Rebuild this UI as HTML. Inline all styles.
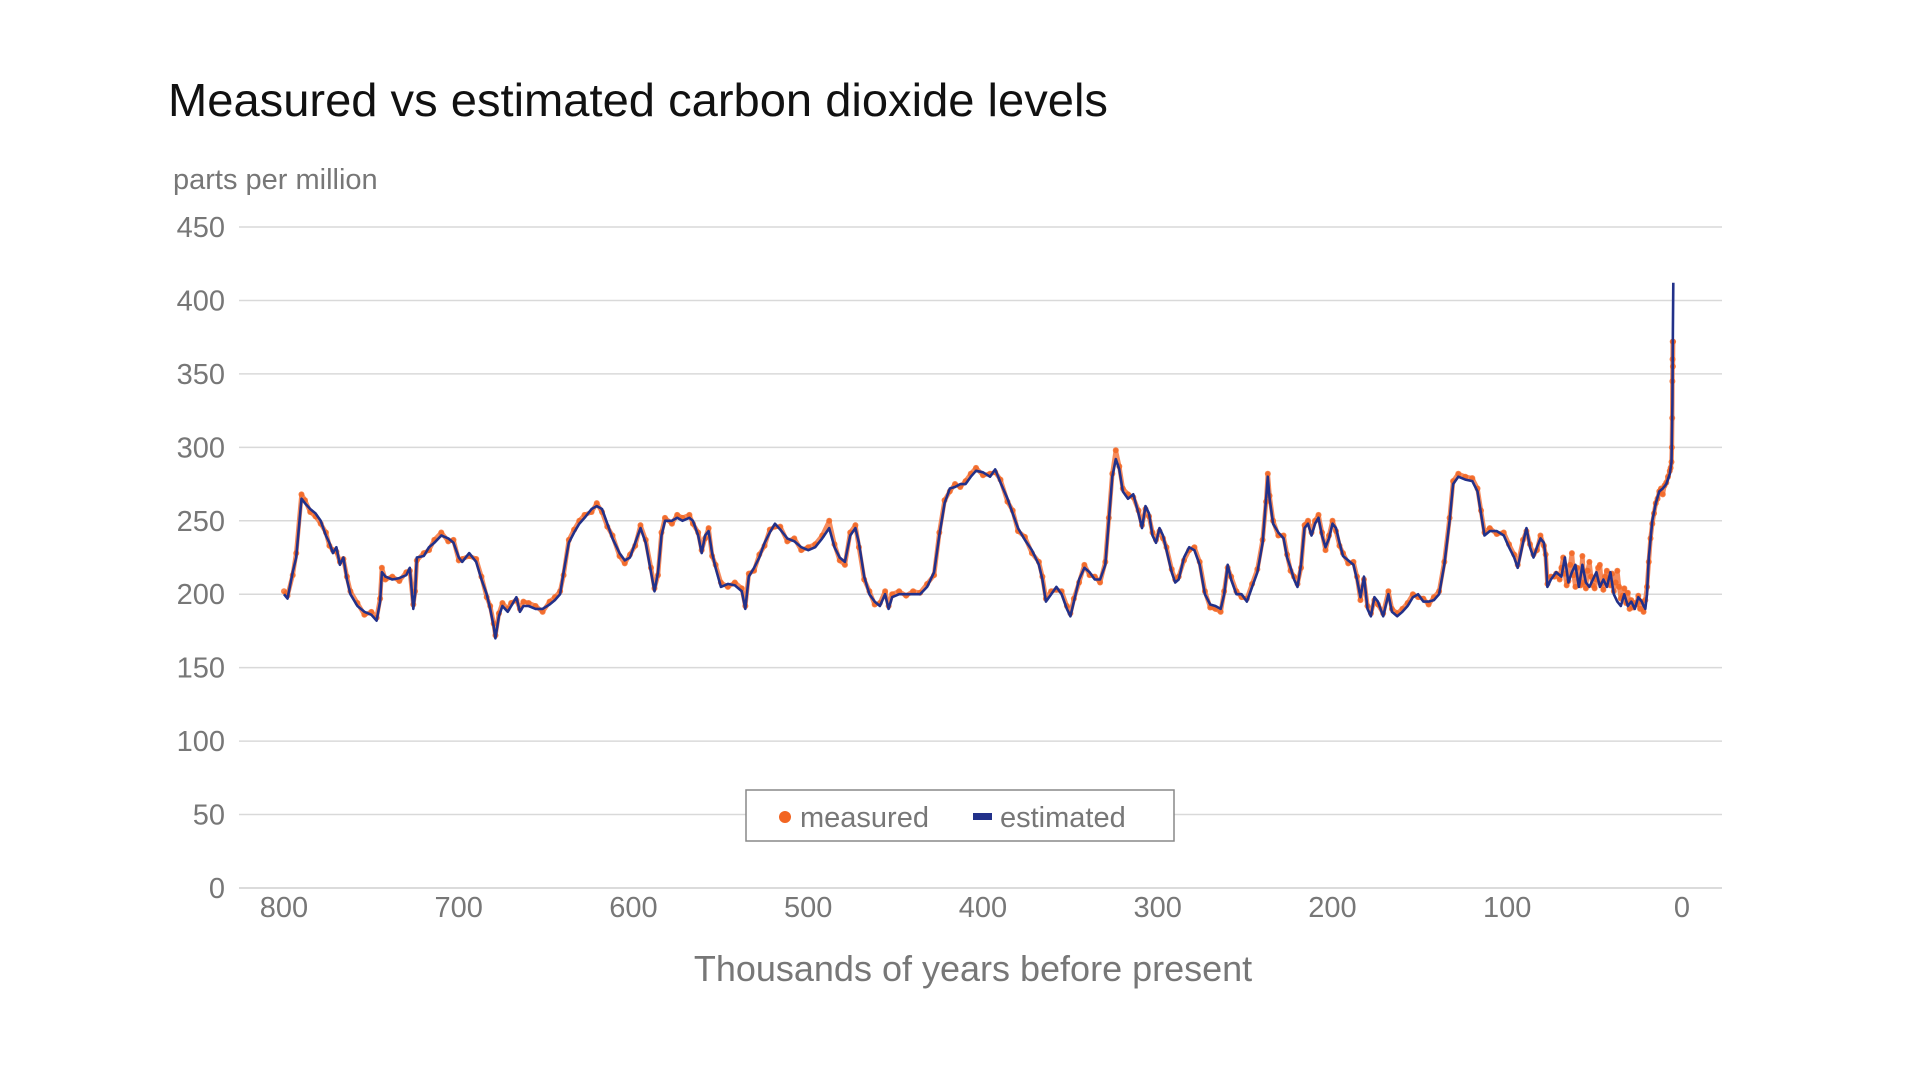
<!DOCTYPE html>
<html><head><meta charset="utf-8"><style>
body{margin:0;background:#fff;width:1920px;height:1080px;overflow:hidden;font-family:"Liberation Sans",sans-serif}
svg text{font-family:"Liberation Sans",sans-serif}
</style></head><body>
<svg id="chart" width="1920" height="1080">
<text x="168" y="116" font-size="46" fill="#111" textLength="940" lengthAdjust="spacingAndGlyphs">Measured vs estimated carbon dioxide levels</text>
<text x="173" y="189" font-size="29" fill="#777">parts per million</text>
<text x="973" y="981" font-size="36" fill="#777" text-anchor="middle">Thousands of years before present</text>
<g id="grid"></g><g id="dots"></g><g id="line"></g><g id="ticks"></g>
<g>
<rect x="746" y="790" width="428" height="51" fill="#fff" stroke="#888" stroke-width="1.5"/>
<circle cx="785" cy="817" r="6" fill="#f26522"/>
<text x="800" y="827" font-size="29" fill="#777">measured</text>
<rect x="973" y="813" width="19" height="7" fill="#22318a"/>
<text x="1000" y="827" font-size="29" fill="#777">estimated</text>
</g>
</svg>
<script>
const yTicks=[0,50,100,150,200,250,300,350,400,450];
const xTicks=[800,700,600,500,400,300,200,100,0];
const estYears=[800,798,795,793,790,788,785,782,779,776,774,772,770,768,766,764,762,758,754,750,747,745,744,742,738,734,730,728,726,725,724,720,717,714,710,706,703,700,698,694,690,687,684,682,680,679,677,675,672,670,667,665,663,660,656,652,648,645,642,640,637,634,631,628,624,621,618,615,612,608,605,602,599,596,593,590,588,586,584,582,578,575,572,568,566,563,561,559,557,555,553,550,546,542,538,536,534,531,528,525,522,519,516,512,508,504,500,496,492,488,485,482,479,476,473,471,468,465,462,459,456,454,452,448,444,440,436,432,428,425,422,419,416,413,410,407,404,400,396,393,390,386,383,380,376,372,368,366,364,361,358,355,352,350,348,345,342,339,336,333,330,328,326,324,322,320,317,314,311,309,307,305,303,301,299,297,295,292,290,288,285,282,279,276,273,270,267,264,262,260,258,255,252,249,246,243,240,238,237,236,234,231,228,226,224,222,220,218,216,214,212,210,208,206,204,202,200,198,196,194,191,188,186,184,182,180,178,176,174,171,168,166,163,160,157,154,151,148,145,142,139,136,133,131,128,124,120,117,115,113,110,106,102,99,96,94,91,89,87,85,83,81,79,78,77,75,72,69,67,65,63,61,59,57,55,53,51,49,47,45,43,41,39,37,35,33,31,29,27,25,23,22,21,20,19,17,15,13,11,9,7,6,5.5,5.2,5];
const estValues=[200,197,215,225,265,262,258,255,250,240,235,228,232,220,225,210,200,192,188,186,182,195,215,212,210,211,213,218,190,200,225,226,232,235,240,238,235,225,222,228,222,210,200,190,178,170,185,192,188,192,198,188,192,192,190,190,193,196,200,215,235,242,248,252,258,260,258,248,238,228,223,225,235,245,235,215,202,215,240,250,250,252,250,252,250,240,228,240,243,228,218,205,207,206,202,190,212,218,225,235,242,248,244,238,236,232,230,232,238,245,232,225,222,240,245,235,212,200,195,192,200,190,198,200,200,200,200,205,215,240,262,272,273,275,275,280,284,283,280,285,276,265,255,245,237,230,220,210,195,200,205,200,190,185,195,210,218,215,210,210,220,250,280,292,285,270,265,268,255,245,260,255,240,235,245,240,230,215,208,210,225,232,230,220,200,193,192,190,200,220,210,200,200,195,205,215,235,265,280,265,248,242,238,225,218,210,205,220,245,248,240,248,252,240,232,238,248,245,235,226,223,220,210,198,212,190,185,198,195,185,200,188,185,188,192,198,200,195,195,196,200,220,250,275,280,278,277,270,255,240,243,243,240,232,225,218,235,245,232,225,232,238,235,225,205,210,215,212,225,208,215,220,205,220,208,205,210,215,205,210,205,215,200,195,192,200,192,195,190,198,195,192,190,200,225,250,262,270,272,275,282,290,330,380,412];
const measYears=[800,798,795,793,790,788,785,782,779,776,774,772,770,768,766,764,762,758,754,750,747,745,744,742,738,734,730,728,726,725,724,720,717,714,710,706,703,700,698,694,690,687,684,682,680,679,677,675,672,670,667,665,663,660,656,652,648,645,642,640,637,634,631,628,624,621,618,615,612,608,605,602,599,596,593,590,588,586,584,582,578,575,572,568,566,563,561,559,557,555,553,550,546,542,538,536,534,531,528,525,522,519,516,512,508,504,500,496,492,488,485,482,479,476,473,471,468,465,462,459,456,454,452,448,444,440,436,432,428,425,422,419,416,413,410,407,404,400,396,393,390,386,383,380,376,372,368,366,364,361,358,355,352,350,348,345,342,339,336,333,330,328,326,324,322,320,317,314,311,309,307,305,303,301,299,297,295,292,290,288,285,282,279,276,273,270,267,264,262,260,258,255,252,249,246,243,240,238,237,236,234,231,228,226,224,222,220,218,216,214,212,210,208,206,204,202,200,198,196,194,191,188,186,184,182,180,178,176,174,171,168,166,163,160,157,154,151,148,145,142,139,136,133,131,128,124,120,117,115,113,110,106,102,99,96,94,91,89,87,85,83,81,79,78,77,75,73,72,70,69,68,67,66,65,64,63,62,61,60,59,58,57,56,55,54,53,52,51,50,49,48,47,46,45,44,43,42,41,40,39,38,37,36,35,34,33,32,31,30,29,28,27,26,25,24,23,22,21,20,19,18,17,16,15,14,13,12,11,10,9,8,7,6.5,6,5.8,5.6,5.5,5.4,5.3,5.2,5.1];
const measValues=[202,199,213,228,268,264,256,253,248,242,233,230,229,222,224,212,202,194,186,188,184,197,218,210,212,209,215,216,193,202,223,228,230,237,242,236,237,223,224,226,224,212,198,192,180,172,187,194,190,194,196,190,195,194,192,188,195,198,202,213,237,244,250,254,256,262,256,246,240,226,221,227,233,247,237,218,204,213,242,252,248,254,252,254,248,242,230,238,245,226,220,208,205,208,204,192,214,216,227,233,244,246,246,236,238,230,232,234,240,250,234,223,220,242,247,232,210,202,193,194,202,192,200,202,199,202,201,207,213,242,264,270,275,273,277,282,286,281,282,283,278,263,257,243,239,228,222,212,197,202,203,202,192,187,197,208,220,213,212,208,222,252,282,298,287,272,268,266,257,247,258,253,242,237,243,238,232,217,210,212,223,230,232,222,202,191,190,188,202,218,212,202,198,197,207,217,237,263,282,267,250,240,240,227,216,212,207,218,247,250,242,250,254,242,230,240,250,243,233,228,221,222,212,196,210,192,187,196,193,187,202,190,187,190,194,200,198,197,193,198,202,222,252,277,282,280,279,272,257,242,245,241,242,234,227,220,237,243,234,227,230,240,233,227,207,212,
212,214,210,218,225,214,206,209,220,228,
213,205,218,210,206,226,208,204,216,222,
212,206,204,210,218,220,207,203,212,216,
210,206,214,202,208,216,205,197,199,204,
194,201,190,196,191,194,193,199,190,195,
188,196,205,222,238,248,255,262,265,270,
272,268,274,276,280,284,286,290,300,
320,345,360,372,355,372];
const NS='http://www.w3.org/2000/svg';
const L=239,R=1722,X0=284,X1=1682,Y0=888,Y450=227;
function xs(k){return X0+(800-k)*(X1-X0)/800;}
function ys(v){return Y0-v*(Y0-Y450)/450;}
const grid=document.getElementById('grid'),ticks=document.getElementById('ticks');
yTicks.forEach(t=>{
 const l=document.createElementNS(NS,'line');
 l.setAttribute('x1',L);l.setAttribute('x2',R);l.setAttribute('y1',ys(t));l.setAttribute('y2',ys(t));
 l.setAttribute('stroke',t===0?'#cfcfcf':'#d9d9d9');l.setAttribute('stroke-width','1.5');
 
 
 grid.appendChild(l);
 const tx=document.createElementNS(NS,'text');
 tx.setAttribute('x',225);tx.setAttribute('y',ys(t)+10);tx.setAttribute('text-anchor','end');
 tx.setAttribute('font-size','29');tx.setAttribute('fill','#777');tx.textContent=t;
 
 
 ticks.appendChild(tx);
});
xTicks.forEach(t=>{
 const tx=document.createElementNS(NS,'text');
 tx.setAttribute('x',xs(t));tx.setAttribute('y',917);tx.setAttribute('text-anchor','middle');
 tx.setAttribute('font-size','29');tx.setAttribute('fill','#777');tx.textContent=t;
 
 
 ticks.appendChild(tx);
});
const dots=document.getElementById('dots');
const mp=document.createElementNS(NS,'path');
mp.setAttribute('d',measYears.map((k,i)=>(i?'L':'M')+xs(k).toFixed(1)+' '+ys(measValues[i]).toFixed(1)).join(' '));
mp.setAttribute('fill','none');mp.setAttribute('stroke','#f4773f');mp.setAttribute('stroke-width','4.5');mp.setAttribute('stroke-linejoin','round');mp.setAttribute('stroke-opacity','0.85');


dots.appendChild(mp);
measYears.forEach((k,i)=>{
 const c=document.createElementNS(NS,'circle');
 c.setAttribute('cx',xs(k));c.setAttribute('cy',ys(measValues[i]));c.setAttribute('r','3');
 c.setAttribute('fill','#f26522');c.setAttribute('fill-opacity','0.8');
 
 
 dots.appendChild(c);
});
const p=document.createElementNS(NS,'path');
p.setAttribute('d',estYears.map((k,i)=>(i?'L':'M')+xs(k).toFixed(1)+' '+ys(estValues[i]).toFixed(1)).join(' '));
p.setAttribute('fill','none');p.setAttribute('stroke','#22318a');p.setAttribute('stroke-width','2.6');p.setAttribute('stroke-linejoin','round');


document.getElementById('line').appendChild(p);
</script>
</body></html>
